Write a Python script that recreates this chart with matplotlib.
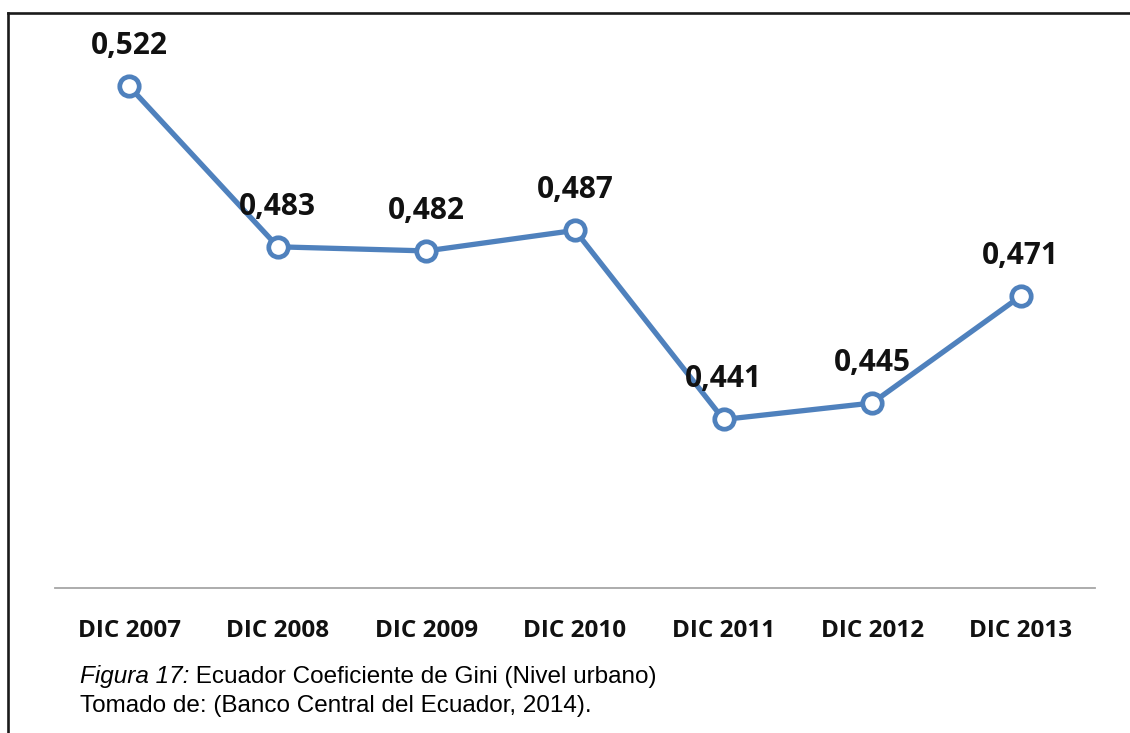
import matplotlib as mpl
mpl.use('Agg')
from matplotlib import pyplot as plt
from matplotlib.lines import Line2D

categorias = ['DIC 2007', 'DIC 2008', 'DIC 2009', 'DIC 2010', 'DIC 2011', 'DIC 2012', 'DIC 2013']
gini = [0.522, 0.483, 0.482, 0.487, 0.441, 0.445, 0.471]
etiquetas = ['0,522', '0,483', '0,482', '0,487', '0,441', '0,445', '0,471']

azul = '#4F81BD'

fig = plt.figure(figsize=(11.3, 7.33), dpi=100)
ax = fig.add_axes([55/1130, 1 - 588/733, 1040/1130, 575.5/733])

x = list(range(len(gini)))
ax.plot(x, gini, color=azul, linewidth=3.8, marker='o', markersize=14,
        markerfacecolor='white', markeredgecolor=azul, markeredgewidth=3.4,
        clip_on=False, zorder=3)

for xi, yi, lab in zip(x, gini, etiquetas):
    ax.annotate(lab, (xi, yi), xytext=(0, 29), textcoords='offset points',
                ha='center', va='center', fontsize=21.5, fontweight='bold',
                family='Open Sans', color='#111111', zorder=4)

ax.set_xlim(-0.5, 6.5)
ax.set_ylim(0.40, 0.54)
ax.set_xticks(x)
ax.set_xticklabels(categorias, fontsize=17.5, fontweight='bold', family='Open Sans', color='#111111')
ax.tick_params(axis='x', length=0, pad=22)
ax.set_yticks([])
for s in ['top', 'right', 'left']:
    ax.spines[s].set_visible(False)
ax.spines['bottom'].set_color('#A6A6A6')
ax.spines['bottom'].set_linewidth(1.3)
ax.patch.set_alpha(0)

# marco de la figura (arriba e izquierda)
fig.add_artist(Line2D([7.5/1130, 1], [1 - 12.5/733, 1 - 12.5/733], color='#1a1a1a', linewidth=1.9))
fig.add_artist(Line2D([8/1130, 8/1130], [0, 1 - 12.5/733], color='#1a1a1a', linewidth=1.9))

t1 = fig.text(80/1130, 1 - 677/733, 'Figura 17:', fontsize=17.5, style='italic',
              family='Liberation Sans', va='center')
fig.text(80/1130, 1 - 706/733, 'Tomado de: (Banco Central del Ecuador, 2014).', fontsize=17.5,
         family='Liberation Sans', va='center')
ax.annotate(' Ecuador Coeficiente de Gini (Nivel urbano)', xy=(1, 0.5), xycoords=t1,
            va='center', ha='left', fontsize=17.5, family='Liberation Sans',
            annotation_clip=False)

fig.savefig('out.png', dpi=100)
